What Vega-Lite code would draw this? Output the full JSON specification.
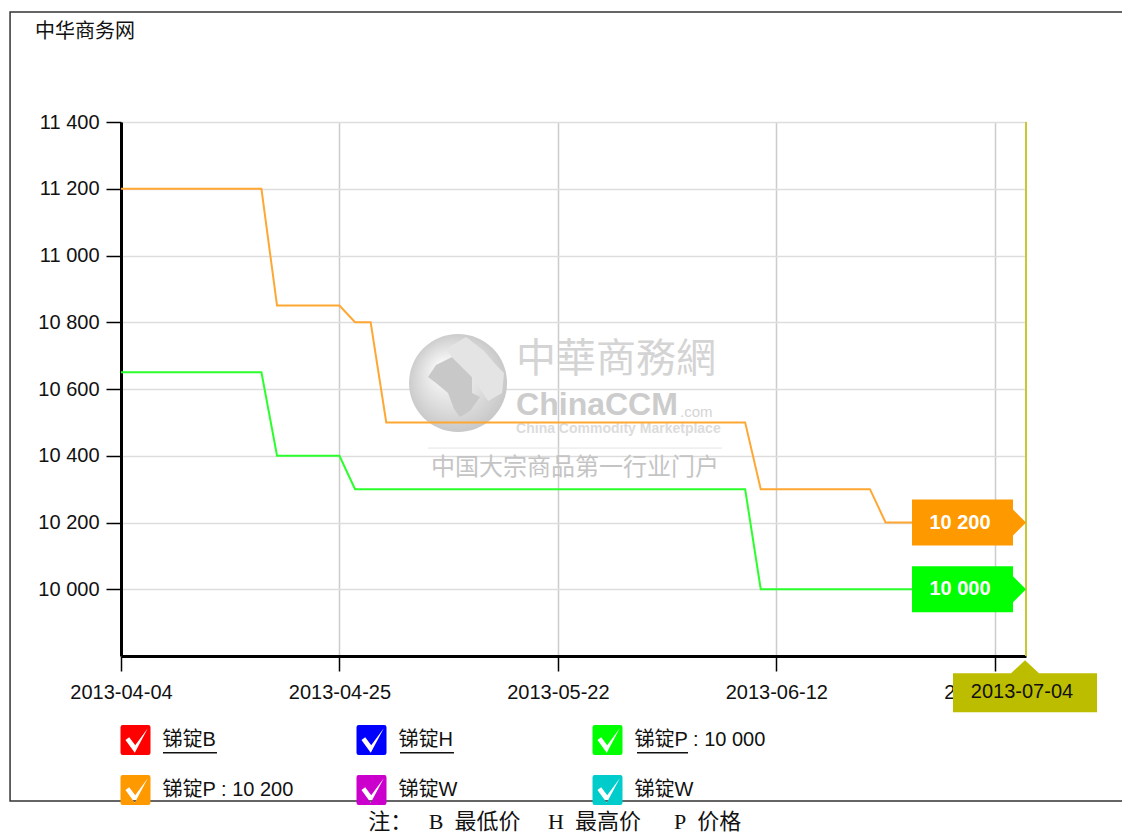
{
"$schema":"https://vega.github.io/schema/vega-lite/v6.json",
"width":905,"height":534,
"autosize":{"type":"none"},
"padding":{"left":121,"top":122,"right":96,"bottom":177},
"background":"#ffffff",
"config":{"view":{"stroke":null},"font":"Liberation Sans"},
"data":{"values":[{"kind":"annotation"}]},
"datasets":{
"prices":[
{"i":0,"value":10650,"series":"锑锭P : 10 000"},{"i":9,"value":10650,"series":"锑锭P : 10 000"},{"i":10,"value":10400,"series":"锑锭P : 10 000"},{"i":14,"value":10400,"series":"锑锭P : 10 000"},{"i":15,"value":10300,"series":"锑锭P : 10 000"},{"i":40,"value":10300,"series":"锑锭P : 10 000"},{"i":41,"value":10000,"series":"锑锭P : 10 000"},{"i":58,"value":10000,"series":"锑锭P : 10 000"},
{"i":0,"value":11200,"series":"锑锭P : 10 200"},{"i":9,"value":11200,"series":"锑锭P : 10 200"},{"i":10,"value":10850,"series":"锑锭P : 10 200"},{"i":14,"value":10850,"series":"锑锭P : 10 200"},{"i":15,"value":10800,"series":"锑锭P : 10 200"},{"i":16,"value":10800,"series":"锑锭P : 10 200"},{"i":17,"value":10500,"series":"锑锭P : 10 200"},{"i":40,"value":10500,"series":"锑锭P : 10 200"},{"i":41,"value":10300,"series":"锑锭P : 10 200"},{"i":48,"value":10300,"series":"锑锭P : 10 200"},{"i":49,"value":10200,"series":"锑锭P : 10 200"},{"i":58,"value":10200,"series":"锑锭P : 10 200"}
],
"latest":[
{"i":58,"value":10000,"series":"锑锭P : 10 000","label":"10 000"},
{"i":58,"value":10200,"series":"锑锭P : 10 200","label":"10 200"}
]
},
"layer":[
{"mark":{"type":"point","filled":true,"opacity":1,"size":9604,"shape":"circle"},
 "encoding":{
  "x":{"datum":21.6,"type":"quantitative","scale":{"domain":[0,58],"nice":false,"zero":false},"title":null,
   "axis":{"title":null,"values":[0,14,28,42,56],"grid":true,"gridColor":"#cccccc","gridWidth":1.5,"domainColor":"#000000","domainWidth":3,"tickColor":"#000000","tickWidth":1.5,"tickSize":15,"labelFontSize":20,"labelColor":"#111111","labelPadding":11,"labelFont":"Liberation Sans","labelExpr":"{'0':'2013-04-04','14':'2013-04-25','28':'2013-05-22','42':'2013-06-12','56':'2013-07-02'}[datum.value]","labelOverlap":false,"labelFlush":false}},
  "y":{"datum":10618,"type":"quantitative","scale":{"domain":[9800,11400],"nice":false,"zero":false},"title":null,
   "axis":{"title":null,"values":[10000,10200,10400,10600,10800,11000,11200,11400],"grid":true,"gridColor":"#dddddd","gridWidth":1.5,"domainColor":"#000000","domainWidth":3,"tickColor":"#000000","tickWidth":1.5,"tickSize":15,"labelFontSize":20,"labelColor":"#111111","labelPadding":7,"labelFont":"Liberation Sans","labelExpr":"replace(format(datum.value,','),',',' ')"}},
  "color":{"value":{"gradient":"radial","x1":0.35,"y1":0.35,"r1":0.02,"x2":0.5,"y2":0.5,"r2":0.55,"stops":[{"offset":0,"color":"#ffffff"},{"offset":0.6,"color":"#dcdcdc"},{"offset":1,"color":"#c4c4c4"}]}}
 }},
{"mark":{"type":"point","filled":true,"opacity":1,"size":4,"color":"#c8c8c8","shape":"M-22,-18 L-6,-26 L2,-18 L14,-6 L14,10 L22,14 L12,28 L2,34 L-4,26 L-10,10 L-22,0 L-30,-6 Z"},
 "encoding":{"x":{"datum":21.6,"type":"quantitative"},"y":{"datum":10618,"type":"quantitative"}}},
{"mark":{"type":"point","filled":true,"opacity":1,"size":4,"color":"#e4e4e4","shape":"M-12,-34 L8,-46 L26,-32 L38,-18 L46,-10 L44,10 L30,18 L14,-6 L2,-18 L-6,-26 Z"},
 "encoding":{"x":{"datum":21.6,"type":"quantitative"},"y":{"datum":10618,"type":"quantitative"}}},
{"mark":{"type":"text","text":"中華商務網","font":"Noto Sans CJK TC","fontSize":40,"color":"#d4d4d4","align":"center","baseline":"middle"},
 "encoding":{"x":{"datum":31.72,"type":"quantitative"},"y":{"datum":10687,"type":"quantitative"}}},
{"mark":{"type":"text","text":"ChinaCCM","font":"Liberation Sans","fontWeight":"bold","fontSize":32,"color":"#cccccc","align":"left","baseline":"middle"},
 "encoding":{"x":{"datum":25.32,"type":"quantitative"},"y":{"datum":10552,"type":"quantitative"}}},
{"mark":{"type":"text","text":".com","font":"Liberation Sans","fontSize":15,"color":"#d4d4d4","align":"left","baseline":"middle"},
 "encoding":{"x":{"datum":35.83,"type":"quantitative"},"y":{"datum":10531,"type":"quantitative"}}},
{"mark":{"type":"text","text":"China Commodity Marketplace","font":"Liberation Sans","fontWeight":"bold","fontSize":14,"color":"#dcdcdc","align":"left","baseline":"middle"},
 "encoding":{"x":{"datum":25.32,"type":"quantitative"},"y":{"datum":10480,"type":"quantitative"}}},
{"mark":{"type":"rule","color":"#e4e4e4","strokeWidth":1},
 "encoding":{"x":{"datum":19.68,"type":"quantitative"},"x2":{"datum":38.52},"y":{"datum":10423,"type":"quantitative"}}},
{"mark":{"type":"text","text":"中国大宗商品第一行业门户","font":"Noto Sans CJK SC","fontSize":24,"color":"#c4c4c4","align":"center","baseline":"middle"},
 "encoding":{"x":{"datum":29.1,"type":"quantitative"},"y":{"datum":10363,"type":"quantitative"}}},
{"data":{"name":"prices"},
 "mark":{"type":"line","strokeWidth":2,"clip":true},
 "encoding":{
  "x":{"field":"i","type":"quantitative"},
  "y":{"field":"value","type":"quantitative"},
  "stroke":{"field":"series","type":"nominal","legend":null,
   "scale":{"domain":["锑锭P : 10 000","锑锭P : 10 200"],"range":["#2bff2b","#ffa733"]}}
 }},
{"mark":{"type":"rule","color":"#c8c832","strokeWidth":2},
 "encoding":{"x":{"datum":58,"type":"quantitative"},"y":{"datum":9800,"type":"quantitative"},"y2":{"datum":11400}}},
{"data":{"name":"latest"},
 "mark":{"type":"point","filled":true,"opacity":1,"size":4,"strokeWidth":0,"shape":"M-114,-23 L-13,-23 L-13,-13 L0,0 L-13,13 L-13,23 L-114,23 Z"},
 "encoding":{
  "x":{"field":"i","type":"quantitative"},
  "y":{"field":"value","type":"quantitative"},
  "fill":{"field":"series","type":"nominal",
   "scale":{"domain":["锑锭B","锑锭H","锑锭P : 10 000","锑锭P : 10 200","锑锭W","锑锭W\u200b"],"range":["#ff0000","#0000ff","#00ff00","#ff9900","#cc00cc","#00cccc"]},
   "legend":{"title":null,"orient":"none","direction":"horizontal","legendX":-0.5,"legendY":603,"columns":3,"gridAlign":"all","columnPadding":62,"rowPadding":20,"padding":0,"zindex":-1,"symbolSize":900,"symbolStrokeWidth":0,"symbolOpacity":1,"labelOffset":12,"labelFontSize":20,"labelColor":"#111111","labelFont":"Liberation Sans, Noto Sans CJK SC","labelLimit":200,
    "symbolType":"M-0.85,-1 L0.85,-1 Q1,-1 1,-0.85 L1,0.85 Q1,1 0.85,1 L-0.85,1 Q-1,1 -1,0.85 L-1,-0.85 Q-1,-1 -0.85,-1 Z M-0.67,0 L-0.05,0.85 L0.82,-0.78 L-0.02,0.35 L-0.42,-0.18 Z"}}
 }},
{"data":{"name":"latest"},
 "mark":{"type":"text","color":"#ffffff","fontWeight":"bold","fontSize":20,"font":"Liberation Sans","dx":-66,"align":"center","baseline":"middle"},
 "encoding":{"x":{"field":"i","type":"quantitative"},"y":{"field":"value","type":"quantitative"},"text":{"field":"label","type":"nominal"}}},
{"mark":{"type":"point","filled":true,"opacity":1,"size":4,"color":"#bdbd00","strokeWidth":0,"shape":"M-73,13 L-15,13 L-1,0 L13,13 L71,13 L71,52 L-73,52 Z"},
 "encoding":{"x":{"datum":58,"type":"quantitative"},"y":{"datum":9787,"type":"quantitative"}}},
{"mark":{"type":"text","text":"2013-07-04","font":"Liberation Sans","fontSize":20,"color":"#111111","align":"center","baseline":"middle","dx":-4},
 "encoding":{"x":{"datum":58,"type":"quantitative"},"y":{"datum":9692,"type":"quantitative"}}},
{"mark":{"type":"rule","color":"#111111","strokeWidth":1.5},
 "encoding":{"x":{"datum":2.69,"type":"quantitative"},"x2":{"datum":6.15},"y":{"datum":9510,"type":"quantitative"}}},
{"mark":{"type":"rule","color":"#111111","strokeWidth":1.5},
 "encoding":{"x":{"datum":17.88,"type":"quantitative"},"x2":{"datum":21.34},"y":{"datum":9510,"type":"quantitative"}}},
{"mark":{"type":"rule","color":"#111111","strokeWidth":1.5},
 "encoding":{"x":{"datum":33.07,"type":"quantitative"},"x2":{"datum":36.34},"y":{"datum":9510,"type":"quantitative"}}},
{"mark":{"type":"rect","color":"#ffffff","clip":false},
 "encoding":{"x":{"datum":-8,"type":"quantitative"},"x2":{"datum":66},"y":{"datum":9365.5,"type":"quantitative"},"y2":{"datum":9200}}},
{"mark":{"type":"rect","fill":null,"fillOpacity":0,"stroke":"#333333","strokeWidth":1.5},
 "encoding":{"x":{"datum":-7.11,"type":"quantitative"},"x2":{"datum":66},"y":{"datum":9365.5,"type":"quantitative"},"y2":{"datum":11729.6}}},
{"mark":{"type":"text","text":"中华商务网","font":"Noto Sans CJK SC","fontSize":20,"color":"#111111","align":"left","baseline":"middle"},
 "encoding":{"x":{"datum":-5.51,"type":"quantitative"},"y":{"datum":11669.7,"type":"quantitative"}}},
{"mark":{"type":"text","text":"注：\u00a0\u00a0\u00a0B\u00a0\u00a0最低价\u00a0\u00a0\u00a0\u00a0\u00a0H\u00a0\u00a0最高价\u00a0\u00a0\u00a0\u00a0\u00a0\u00a0P\u00a0\u00a0价格","font":"Liberation Serif, Noto Sans CJK SC","fontSize":22,"color":"#111111","align":"center","baseline":"middle"},
 "encoding":{"x":{"datum":27.8,"type":"quantitative"},"y":{"datum":9302.6,"type":"quantitative"}}}
]
}
